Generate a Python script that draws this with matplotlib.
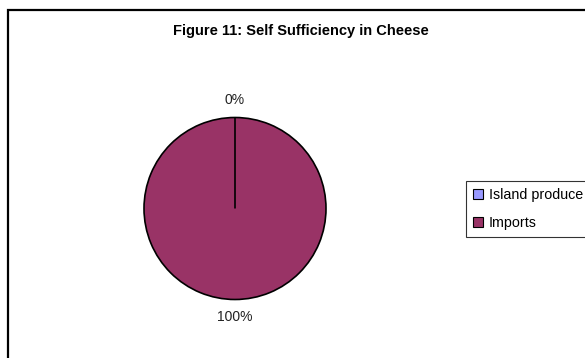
import matplotlib.pyplot as plt
from matplotlib.patches import Rectangle

plt.rcParams['font.family'] = ['Liberation Sans', 'DejaVu Sans']

labels = ['Island produce', 'Imports']
shares = [0, 100]
colors = ['#9999FF', '#993366']

W, H = 585, 358
fig = plt.figure(figsize=(W / 100, H / 100), dpi=100)

# chart border, runs off the right and bottom edges
fig.patches.append(Rectangle((8 / W, -0.1), 1.2, 1 - 10 / H + 0.1, transform=fig.transFigure,
                             fill=False, edgecolor='black', linewidth=1.6))

fig.text(301 / W, 1 - 31 / H, 'Figure 11: Self Sufficiency in Cheese',
         ha='center', va='center', fontsize=10.5, fontweight='bold')

# pie centre ~ (235, 208) px, radius ~ 91 px
cx, cy, r = 235, 208.5, 91
ax = fig.add_axes([(cx - r) / W, 1 - (cy + r) / H, 2 * r / W, 2 * r / H])
wedges, texts, pcts = ax.pie(shares, colors=colors, startangle=90, counterclock=False,
                             autopct='%.0f%%', pctdistance=1.19,
                             wedgeprops=dict(edgecolor='black', linewidth=1.2),
                             textprops=dict(fontsize=10, color='#222222'))
# the empty slice only shows as its edge line, keep it on top
wedges[0].set_zorder(3)
ax.set_xlim(-1, 1)
ax.set_ylim(-1, 1)
ax.set_aspect('equal')

leg = fig.legend(wedges, labels, loc='upper left', bbox_to_anchor=(466 / W, 1 - 181 / H),
                 frameon=True, fancybox=False, fontsize=10.3, handlelength=0.7, handleheight=0.7,
                 handletextpad=0.4, borderpad=0.5, labelspacing=0.95, borderaxespad=0)
leg.get_frame().set_edgecolor('black')
leg.get_frame().set_linewidth(0.8)
for h in leg.legend_handles:
    h.set_linewidth(0.8)

fig.savefig('out.png', dpi=100)
